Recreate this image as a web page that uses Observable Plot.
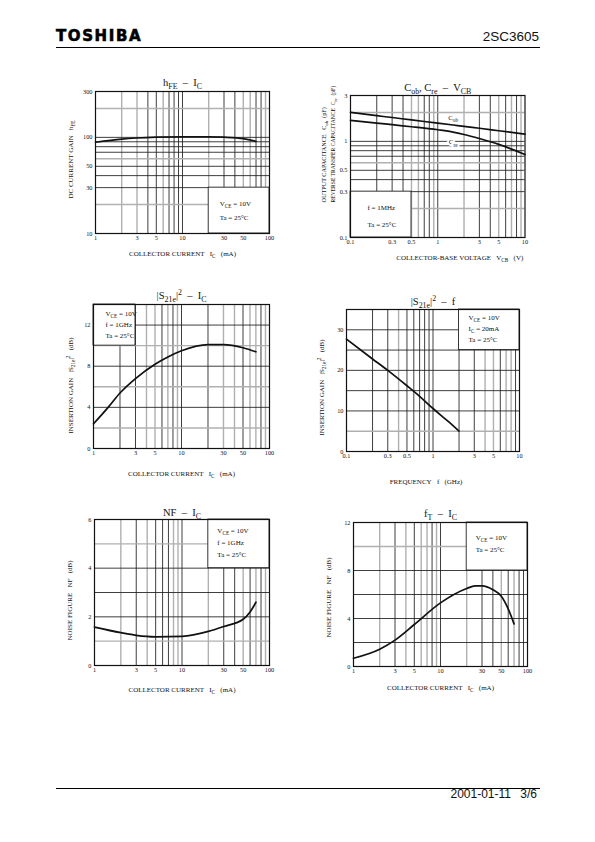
<!DOCTYPE html>
<html><head><meta charset="utf-8">
<script src="https://cdn.jsdelivr.net/npm/d3@7"></script>
<script src="https://cdn.jsdelivr.net/npm/@observablehq/plot@0.6"></script>
<style>
body{margin:0;background:#fff}
#page{position:relative;width:595px;height:842px;overflow:hidden;background:#fff}
.abs{position:absolute;white-space:pre}
svg text{white-space:pre}
</style>
</head><body>
<div id="page">
  <div class="abs" style="left:56px;top:29px;font:bold 15px/1 'DejaVu Sans',sans-serif;letter-spacing:1.6px;color:#000;-webkit-text-stroke:0.6px #000">TOSHIBA</div>
  <div class="abs" style="right:56px;top:30.3px;font:13.5px/1 'Liberation Sans',Arial,sans-serif;color:#111">2SC3605</div>
  <div class="abs" style="left:56px;top:47px;width:484px;height:1.3px;background:#000"></div>
  <div class="abs" style="left:56px;top:788px;width:484px;height:1px;background:#000"></div>
  <div class="abs" style="right:84px;top:788.2px;font:12px/1 'Liberation Sans',Arial,sans-serif;color:#111">2001-01-11</div>
  <div class="abs" style="right:58px;top:788.2px;font:12px/1 'Liberation Sans',Arial,sans-serif;color:#111">3/6</div>
</div>
<script>
// ---------------- DATA ----------------
// hFE - IC
const hfeIC  = [1, 2, 3, 5, 10, 20, 30, 50, 70];
const hfeVal = [89, 96, 98.5, 100.5, 101.5, 101.5, 100.5, 97, 91];
// Cob, Cre - VCB
const capV   = [0.1, 0.2, 0.3, 0.5, 1, 1.5, 2, 3, 5, 10];
const cobVal = [2.0, 1.85, 1.77, 1.67, 1.55, 1.48, 1.43, 1.37, 1.29, 1.19];
const creVal = [1.65, 1.55, 1.49, 1.42, 1.32, 1.25, 1.18, 1.07, 0.93, 0.73];
// |S21e|^2 - IC
const s21IC    = [1, 1.5, 2, 3, 5, 7, 10, 20, 30, 50, 70];
const s21ICVal = [2.4, 4.1, 5.4, 6.8, 8.2, 8.9, 9.5, 10.1, 10.1, 9.8, 9.4];
// |S21e|^2 - f
const freq    = [0.1, 0.2, 0.3, 0.5, 0.7, 1, 1.5, 2];
const s21fVal = [27.7, 22.8, 20.0, 16.2, 13.6, 10.6, 7.4, 5.0];
// NF - IC
const nfIC  = [1, 2, 3, 5, 10, 20, 30, 50, 60, 70];
const nfVal = [1.58, 1.35, 1.24, 1.18, 1.2, 1.4, 1.6, 1.9, 2.2, 2.6];
// fT - IC
const ftIC  = [1, 2, 3, 5, 10, 20, 25, 30, 40, 50, 60, 70];
const ftVal = [0.69, 1.44, 2.2, 3.5, 5.3, 6.5, 6.72, 6.72, 6.4, 5.85, 4.8, 3.55];

// tick labels
const ticksIC   = [1, 3, 5, 10, 30, 50, 100];
const ticksV    = [0.1, 0.3, 0.5, 1, 3, 5, 10];
const ticksHfe  = [10, 30, 50, 100, 300];
const ticksCap  = [0.1, 0.3, 0.5, 1, 3];
const ticksS21  = [0, 4, 8, 12];
const ticksS21f = [0, 10, 20, 30];
const ticksNF   = [0, 2, 4, 6];
const ticksFT   = [0, 4, 8, 12];

// grid lines
const gridIC  = [2, 3, 4, 5, 6, 7, 8, 9, 10, 20, 30, 40, 50, 60, 70, 80, 90];
const gridV   = [0.2, 0.3, 0.4, 0.5, 0.6, 0.7, 0.8, 0.9, 1, 2, 3, 4, 5, 6, 7, 8, 9];
const gridHfe = [20, 30, 40, 50, 60, 70, 80, 90, 100, 200];
const gridCap = [0.2, 0.3, 0.4, 0.5, 0.6, 0.7, 0.8, 0.9, 1, 2];
const gridS21  = [2, 4, 6, 8, 10, 12];
const gridS21f = [5, 10, 15, 20, 25, 30];
const gridNF   = [1, 2, 3, 4, 5];
const gridFT   = [2, 4, 6, 8, 10];

// condition boxes (in data units)
const hfeBox  = [{x1: 20, x2: 100, y1: 10, y2: 30}];
const capBox  = [{x1: 0.1, x2: 0.5, y1: 0.1, y2: 0.3}];
const s21Box  = [{x1: 1, x2: 3, y1: 10, y2: 14}];
const s21fBox = [{x1: 2, x2: 10, y1: 25, y2: 35}];
const nfBox   = [{x1: 20, x2: 100, y1: 4, y2: 6}];
const ftBox   = [{x1: 20, x2: 100, y1: 8, y2: 12}];

// ---------------- RENDER ----------------
const FONT = "'Liberation Serif','Times New Roman',serif";
const G = "\u00a0\u00a0\u00a0";
const G2 = "\u00a0\u00a0";
const D = "\u00a0\u00a0–\u00a0\u00a0";
const ML = 50, MR = 15, MT = 22, MB = 36;
const page = document.getElementById("page");
const fmt = d => String(d);

function rich(svg) {
  const ns = "http://www.w3.org/2000/svg";
  const nodes = [];
  svg.querySelectorAll("text, tspan").forEach(el => {
    el.childNodes.forEach(n => { if (n.nodeType === 3 && /[_^]\{/.test(n.nodeValue)) nodes.push(n); });
  });
  for (const node of nodes) {
    const parent = node.parentNode;
    const fs = parseFloat(getComputedStyle(parent).fontSize) || 8;
    const s = node.nodeValue;
    const re = /([_^])\{([^}]*)\}/g;
    const frag = document.createDocumentFragment();
    let last = 0, shift = 0, m;
    const add = (txt, kind) => {
      const t = document.createElementNS(ns, "tspan");
      t.textContent = txt;
      const target = kind === "_" ? fs * 0.32 : kind === "^" ? -fs * 0.4 : 0;
      const d = target - shift;
      if (d) t.setAttribute("dy", d.toFixed(2));
      shift = target;
      if (kind) t.setAttribute("font-size", (fs * 0.75).toFixed(2));
      frag.appendChild(t);
    };
    while ((m = re.exec(s))) {
      if (m.index > last) add(s.slice(last, m.index), null);
      add(m[2], m[1]);
      last = re.lastIndex;
    }
    if (last < s.length) add(s.slice(last), null);
    parent.replaceChild(frag, node);
  }
}

function makeChart(c) {
  const [fx0, fx1, fy0, fy1] = c.frame;
  const W = fx1 - fx0 + ML + MR, H = fy1 - fy0 + MT + MB;
  const dark = "#1c1c1c", light = "#b0b0b0";
  const marks = [
    Plot.ruleX(c.gridX.filter(v => !c.lightX.includes(v)), {stroke: dark, strokeWidth: 0.85}),
    Plot.ruleX(c.lightX, {stroke: light, strokeWidth: 1.4}),
    Plot.ruleY(c.gridY.filter(v => !c.lightY.includes(v)), {stroke: dark, strokeWidth: 0.85}),
    Plot.ruleY(c.lightY, {stroke: light, strokeWidth: 1.4}),
    Plot.rect(c.box, {x1: "x1", x2: "x2", y1: "y1", y2: "y2", fill: "white", stroke: dark, strokeWidth: 0.85}),
    Plot.frame({stroke: "#111", strokeWidth: 1.2}),
    ...c.series.map(s => Plot.line(s.y, {x: s.x, y: s.y, curve: "monotone-x", stroke: "#111", strokeWidth: 1.7})),
    Plot.text(c.box, {x: "x1", y: "y2", text: () => c.legend.join("\n"), textAnchor: "start", lineAnchor: "top",
      lineHeight: c.lh, dx: c.ldx, dy: c.ldy, fontSize: 7, fill: "#111"}),
    Plot.text([c.title], {text: d => d, frameAnchor: "top", textAnchor: "middle", lineAnchor: "middle", dy: c.titleDy, fontSize: 10.5, fill: "#111"}),
    Plot.text([c.xlabel], {text: d => d, frameAnchor: "bottom", textAnchor: "middle", lineAnchor: "middle", dx: c.xDx || 0, dy: c.xDy, fontSize: 7, fill: "#111"}),
    ...(c.extra || [])
  ];
  if (c.ylabel) marks.push(Plot.text([c.ylabel], {text: d => d, frameAnchor: "left", textAnchor: "middle", lineAnchor: "middle", rotate: -90, dx: c.yDx, dy: c.yDy, fontSize: 7, fill: "#111"}));
  const svg = Plot.plot({
    width: W, height: H, marginLeft: ML, marginRight: MR, marginTop: MT, marginBottom: MB,
    x: {type: c.xType, domain: c.xDomain, ticks: c.xTicks, tickFormat: fmt, tickSize: 0, tickPadding: 2.5, label: null},
    y: {type: c.yType, domain: c.yDomain, ticks: c.yTicks, tickFormat: fmt, tickSize: 0, tickPadding: 3, label: null},
    style: {fontFamily: FONT, fontSize: "6.3px", color: "#111", background: "transparent", overflow: "visible"},
    marks
  });
  svg.style.position = "absolute";
  svg.style.left = (fx0 - ML) + "px";
  svg.style.top = (fy0 - MT) + "px";
  page.appendChild(svg);
  rich(svg);
}

const icLabel = `COLLECTOR CURRENT${G}I_{C}${G}(mA)`;

makeChart({
  frame: [95, 269, 91, 233], xType: "log", xDomain: [1, 100], yType: "log", yDomain: [10, 300],
  xTicks: ticksIC, yTicks: ticksHfe,
  gridX: gridIC, lightX: [2, 3, 6, 20, 50, 60, 90], gridY: gridHfe, lightY: [200, 60, 20],
  box: hfeBox, legend: ["V_{CE} = 10V", "Ta = 25°C"], lh: 2.0, ldx: 11, ldy: 8.6,
  series: [{x: hfeIC, y: hfeVal}],
  title: `h_{FE}${D}I_{C}`, titleDy: -9,
  xlabel: icLabel, xDy: 20,
  ylabel: `DC CURRENT GAIN${G}h_{FE}`, yDx: -25, yDy: -3
});

makeChart({
  frame: [350, 524.5, 95, 237], xType: "log", xDomain: [0.1, 10], yType: "log", yDomain: [0.1, 3],
  xTicks: ticksV, yTicks: ticksCap,
  gridX: gridV, lightX: [0.5, 0.6, 0.9, 2, 5, 7, 9], gridY: gridCap, lightY: [2, 0.6, 0.2],
  box: capBox, legend: ["f = 1MHz", "Ta = 25°C"], lh: 2.4, ldx: 17, ldy: 6.6,
  series: [{x: capV, y: cobVal}, {x: capV, y: creVal}],
  title: `C_{ob}, C_{re}${D}V_{CB}`, titleDy: -8,
  xlabel: `COLLECTOR-BASE VOLTAGE${G}V_{CB}${G}(V)`, xDx: 22, xDy: 20,
  extra: [
    Plot.text(["C_{ob}"], {text: d => d, x: [capV[5]], y: [cobVal[5]], dy: -7, fontSize: 7, fill: "#111"}),
    Plot.text(["C_{re}"], {text: d => d, x: [capV[5]], y: [creVal[5]], dy: 10, fontSize: 7, fill: "#111", stroke: "white", strokeWidth: 4}),
    Plot.text([`OUTPUT CAPACITANCE${G}C_{ob}${G2}(pF)`], {text: d => d, frameAnchor: "bottom-left", rotate: -90, textAnchor: "start", lineAnchor: "middle", dx: -26, dy: -35, fontSize: 6.2, fill: "#111"}),
    Plot.text([`REVERSE TRANSFER CAPACITANCE${G2}C_{re}${G2}(pF)`], {text: d => d, frameAnchor: "bottom-left", rotate: -90, textAnchor: "start", lineAnchor: "middle", dx: -17, dy: -35, fontSize: 5.6, fill: "#111"})
  ]
});

makeChart({
  frame: [93, 269, 304, 448], xType: "log", xDomain: [1, 100], yType: "linear", yDomain: [0, 14],
  xTicks: ticksIC, yTicks: ticksS21,
  gridX: gridIC, lightX: [4, 5, 7, 9, 30, 40, 60, 70, 90], gridY: gridS21, lightY: [2, 6, 10],
  box: s21Box, legend: ["V_{CE} = 10V", "f = 1GHz", "Ta = 25°C"], lh: 1.6, ldx: 12, ldy: 3.5,
  series: [{x: s21IC, y: s21ICVal}],
  title: `|S_{21e}|^{2}${D}I_{C}`, titleDy: -9,
  xlabel: icLabel, xDy: 25,
  ylabel: `INSERTION GAIN${G}|S_{21e}|^{2}${G}(dB)`, yDx: -23, yDy: 9
});

makeChart({
  frame: [346, 519, 309, 451], xType: "log", xDomain: [0.1, 10], yType: "linear", yDomain: [0, 35],
  xTicks: ticksV, yTicks: ticksS21f,
  gridX: gridV, lightX: [0.4, 4, 5, 7, 8], gridY: gridS21f, lightY: [5],
  box: s21fBox, legend: ["V_{CE} = 10V", "I_{C} = 20mA", "Ta = 25°C"], lh: 1.6, ldx: 9.5, ldy: 2.5,
  series: [{x: freq, y: s21fVal}],
  title: `|S_{21e}|^{2}${D}f`, titleDy: -8,
  xlabel: `FREQUENCY${G}f${G}(GHz)`, xDx: -7, xDy: 30,
  ylabel: `INSERTION GAIN${G}|S_{21e}|^{2}${G}(dB)`, yDx: -25, yDy: 7
});

makeChart({
  frame: [94, 269, 519, 665], xType: "log", xDomain: [1, 100], yType: "linear", yDomain: [0, 6],
  xTicks: ticksIC, yTicks: ticksNF,
  gridX: gridIC, lightX: [2, 4, 8, 9, 20, 50, 70, 90], gridY: gridNF, lightY: [1, 5],
  box: nfBox, legend: ["V_{CE} = 10V", "f = 1GHz", "Ta = 25°C"], lh: 1.7, ldx: 9, ldy: 5,
  series: [{x: nfIC, y: nfVal}],
  title: `NF${D}I_{C}`, titleDy: -7,
  xlabel: icLabel, xDy: 24,
  ylabel: `NOISE FIGURE${G}NF${G}(dB)`, yDx: -25, yDy: 8
});

makeChart({
  frame: [353, 527, 522, 666], xType: "log", xDomain: [1, 100], yType: "linear", yDomain: [0, 12],
  xTicks: ticksIC, yTicks: ticksFT,
  gridX: gridIC, lightX: [2, 4, 6, 7, 9, 20, 50, 70], gridY: gridFT, lightY: [10],
  box: ftBox, legend: ["V_{CE} = 10V", "Ta = 25°C"], lh: 1.7, ldx: 9, ldy: 9,
  series: [{x: ftIC, y: ftVal}],
  title: `f_{T}${D}I_{C}`, titleDy: -9,
  xlabel: icLabel, xDy: 21,
  ylabel: `NOISE FIGURE${G}NF${G}(dB)`, yDx: -25, yDy: 3
});
</script>
</body></html>
